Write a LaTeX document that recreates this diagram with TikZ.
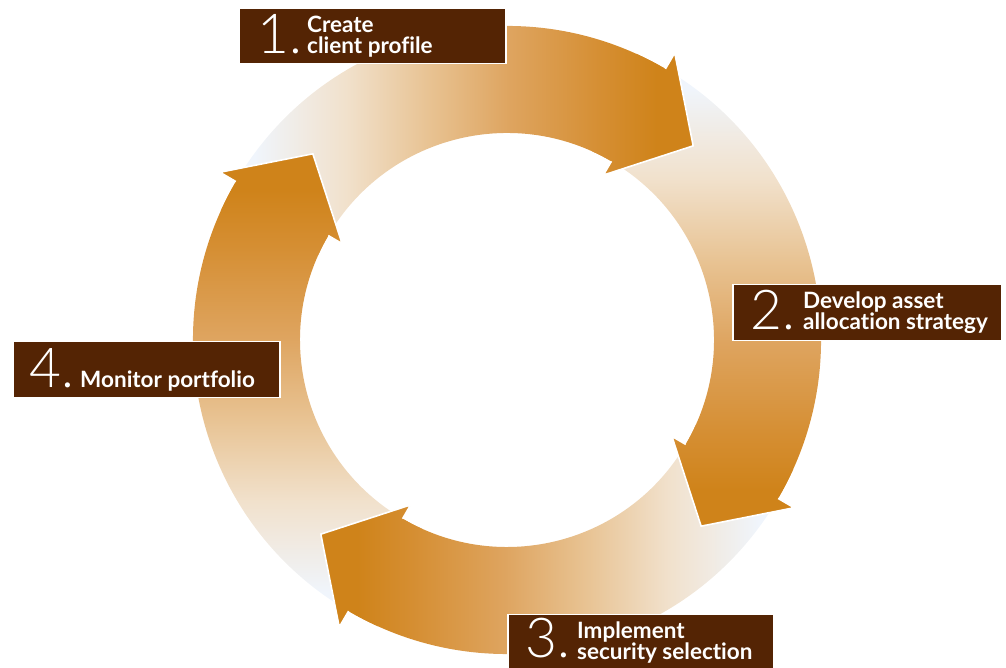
\documentclass[tikz,border=0pt]{standalone}
\usepackage{fontspec}
\setmainfont{Lato}[Ligatures=NoCommon]
\IfFontExistsTF{Lato Light}{\newfontfamily\numfont{Lato Light}}{\newfontfamily\numfont{Lato}}

% palette of the ring and the step labels
\definecolor{ringlight}{RGB}{240,245,252}
\definecolor{ringbeige}{RGB}{241,225,204}
\definecolor{ringtan}{RGB}{232,195,147}
\definecolor{ringamber}{RGB}{222,164,95}
\definecolor{ringdeep}{RGB}{213,142,50}
\definecolor{ringorange}{RGB}{207,131,26}
\definecolor{labelbrown}{RGB}{84,36,4}

% fade from the tail (pale) to the head (orange) of each arrow
\pgfdeclarehorizontalshading{ringfade}{100bp}{%
  color(0bp)=(ringlight); color(27bp)=(ringlight); color(37bp)=(ringbeige);
  color(46bp)=(ringtan); color(55bp)=(ringamber); color(65bp)=(ringdeep);
  color(71bp)=(ringorange); color(100bp)=(ringorange)}

\tikzset{
  labelbox/.style={draw=white, line width=1.5pt, fill=labelbrown, inner sep=0pt},
  numtext/.style={text=white, inner sep=0pt, font=\numfont\fontsize{55}{60}\selectfont},
  steptext/.style={text=white, inner sep=0pt, font=\bfseries\fontsize{22.5}{25}\selectfont},
  headedge/.style={draw=white, line width=1.6pt, line join=miter}
}

% outline of one curved arrow whose head starts at angle #1
\newcommand{\ringarrow}[1]{%
  ({#1+90}:314) arc[start angle={#1+90}, end angle={#1}, radius=314]
  -- ({#1}:332.5) -- ({#1-13.5}:269) -- ({#1}:191) -- ({#1}:207)
  arc[start angle={#1}, end angle={#1+90}, radius=207] -- cycle}

\begin{document}
\begin{tikzpicture}[x=1pt, y=1pt]
\useasboundingbox (0,0) rectangle (1006,668);

\begin{scope}[shift={(507,328)}]
  % arrow bodies
  \foreach \h/\a in {59.7/0, -30.3/-90, -120.3/180, -210.3/90}{
    \shade[shading=ringfade, shading angle=\a] \ringarrow{\h};
  }
  % arrow heads laid over the tail of the following arrow
  \foreach \h/\a in {59.7/0, -30.3/-90, -120.3/180, -210.3/90}{
    \begin{scope}
      \clip (0,0) -- ({\h+6}:400) -- ({\h-3}:400) -- ({\h-25}:400) -- cycle;
      \shade[shading=ringfade, shading angle=\a] \ringarrow{\h};
    \end{scope}
    \draw[headedge] (\h:314) -- (\h:332.5) -- ({\h-13.5}:269) -- (\h:191) -- (\h:207);
  }
\end{scope}

% step labels
\node[labelbox, minimum width=267pt, minimum height=55pt, anchor=north west] (box1) at (238,660) {};
\node[numtext, anchor=base west] (num1) at (257,614) {1.};
\node[steptext, anchor=base west] (txt1a) at (307,635) {Create};
\node[steptext, anchor=base west] (txt1b) at (307,614) {client profile};

\node[labelbox, minimum width=269pt, minimum height=56pt, anchor=north west] (box2) at (732,384) {};
\node[numtext, anchor=base west] (num2) at (750,338) {2.};
\node[steptext, anchor=base west] (txt2a) at (803,359) {Develop asset};
\node[steptext, anchor=base west] (txt2b) at (803,338) {allocation strategy};

\node[labelbox, minimum width=266pt, minimum height=62pt, anchor=north west] (box3) at (507,54) {};
\node[numtext, anchor=base west] (num3) at (525,10) {3.};
\node[steptext, anchor=base west] (txt3a) at (577,29) {Implement};
\node[steptext, anchor=base west] (txt3b) at (577,8) {security selection};

\node[labelbox, minimum width=267pt, minimum height=56pt, anchor=north west] (box4) at (12,327) {};
\node[numtext, anchor=base west] (num4) at (29,280) {4.};
\node[steptext, anchor=base west] (txt4) at (80,280) {Monitor portfolio};
\end{tikzpicture}
\end{document}
